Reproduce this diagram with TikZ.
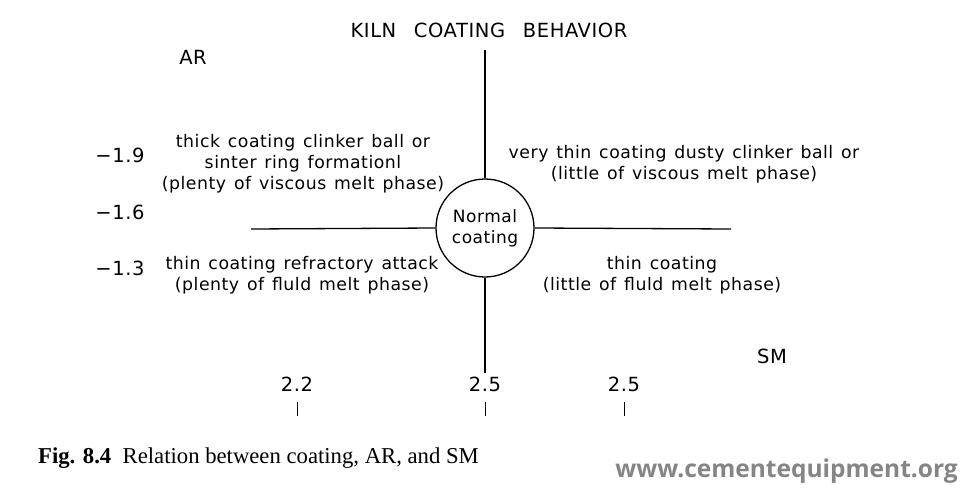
\documentclass[tikz,border=0pt]{standalone}
\usepackage{fontspec}
\setmainfont{DejaVu Sans}[LetterSpace=3,WordSpace=1.3]
\newfontfamily\capfont{Liberation Serif}
\newfontfamily\wmfont{Open Sans}
\begin{document}
\begin{tikzpicture}[x=1pt,y=-1pt,
  lbl/.style={inner sep=0pt,align=center,font=\fontsize{17.3}{21}\selectfont},
  big/.style={inner sep=0pt,font=\fontsize{19.5}{20}\selectfont},
  axis/.style={line width=1.3pt}]
\useasboundingbox (0,0) rectangle (964,492);
\node[draw,circle,line width=1.3pt,minimum size=98pt,inner sep=0pt,align=center,font=\fontsize{17}{21}\selectfont] (nc) at (485,228) {Normal\\coating};
\coordinate (vt) at (485,50);
\coordinate (vb) at (485,373);
\coordinate (hl) at (251,229);
\coordinate (hr) at (731,229);
\draw[axis] (vt) -- (nc.north);
\draw[axis] (nc.south) -- (vb);
\draw[axis] (hl) -- (nc.west);
\draw[axis] (nc.east) -- (hr);
\node[big] (title) at (489,30) {KILN\ \ COATING\ \ BEHAVIOR};
\node[big] (ar) at (193,57) {AR};
\node[big] (sm) at (772,356) {SM};
\node[big] (y1) at (120,155) {−1.9};
\node[big] (y2) at (120,212) {−1.6};
\node[big] (y3) at (120,268) {−1.3};
\node[lbl] (ul) at (303,164) {thick coating clinker ball or\\sinter ring formationl\\(plenty of viscous melt phase)};
\node[lbl] (ur) at (684,164) {very thin coating dusty clinker ball or\\(little of viscous melt phase)};
\node[lbl] (ll) at (302,275) {thin coating refractory attack\\(plenty of fluld melt phase)};
\node[lbl] (lr) at (662,275) {thin coating\\(little of fluld melt phase)};
\node[big] (x1) at (297,384) {2.2};
\node[big] (x2) at (485,384) {2.5};
\node[big] (x3) at (624,384) {2.5};
\coordinate (t1a) at (297,402); \coordinate (t1b) at (297,416);
\coordinate (t2a) at (485,402); \coordinate (t2b) at (485,416);
\coordinate (t3a) at (624,402); \coordinate (t3b) at (624,416);
\draw[line width=1pt] (t1a) -- (t1b);
\draw[line width=1pt] (t2a) -- (t2b);
\draw[line width=1pt] (t3a) -- (t3b);
\node[anchor=west,inner sep=0pt,font=\capfont\fontsize{22.7}{26}\selectfont] (cap) at (38,458) {\textbf{Fig. 8.4}\ \ Relation between coating, AR, and SM};
\node[anchor=east,inner sep=0pt,text=black!48,font=\wmfont\bfseries\fontsize{24.5}{28}\selectfont] (wm) at (958,471) {www.cementequipment.org};
\end{tikzpicture}
\end{document}
